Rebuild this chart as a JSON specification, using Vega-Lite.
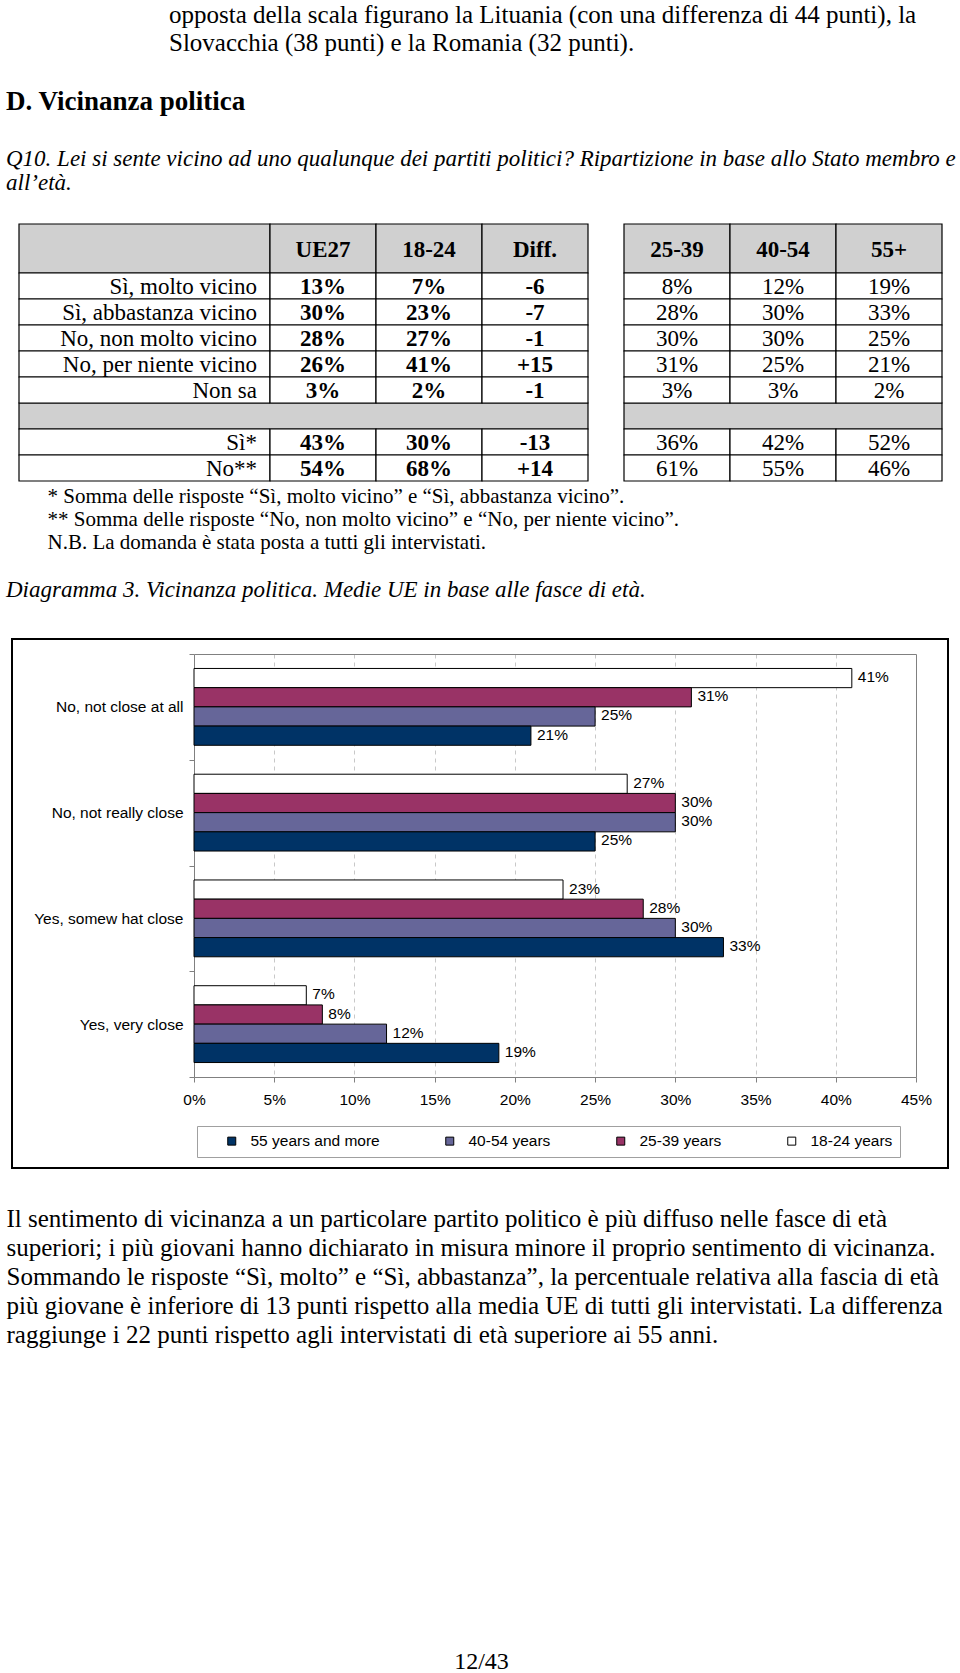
{
  "$schema": "https://vega.github.io/schema/vega-lite/v6.json",
  "background": "white",
  "padding": {"left": 5, "top": 2, "right": 0, "bottom": 0},
  "config": {"view": {"stroke": null}},
  "title": {
    "text": ["opposta della scala figurano la Lituania (con una differenza di 44 punti), la", "Slovacchia (38 punti) e la Romania (32 punti)."],
    "anchor": "start", "frame": "group", "dx": 157, "offset": 32,
    "font": "Liberation Serif", "fontSize": 25, "fontWeight": "normal", "lineHeight": 28, "color": "black"
  },
  "bounds": "flush",
  "spacing": 158,
  "datasets": {
    "hdrA": [{"col": "UE27", "part": "header"}, {"col": "18-24", "part": "header"}, {"col": "Diff.", "part": "header"}],
    "hdrB": [{"col": "25-39", "part": "header"}, {"col": "40-54", "part": "header"}, {"col": "55+", "part": "header"}],
    "labels": [{"row": "Sì, molto vicino"}, {"row": "Sì, abbastanza vicino"}, {"row": "No, non molto vicino"}, {"row": "No, per niente vicino"}, {"row": "Non sa"}, {"row": "Sì*"}, {"row": "No**"}],
    "cellsA": [
      {"row": "Sì, molto vicino", "col": "UE27", "v": "13%"}, {"row": "Sì, molto vicino", "col": "18-24", "v": "7%"}, {"row": "Sì, molto vicino", "col": "Diff.", "v": "-6"},
      {"row": "Sì, abbastanza vicino", "col": "UE27", "v": "30%"}, {"row": "Sì, abbastanza vicino", "col": "18-24", "v": "23%"}, {"row": "Sì, abbastanza vicino", "col": "Diff.", "v": "-7"},
      {"row": "No, non molto vicino", "col": "UE27", "v": "28%"}, {"row": "No, non molto vicino", "col": "18-24", "v": "27%"}, {"row": "No, non molto vicino", "col": "Diff.", "v": "-1"},
      {"row": "No, per niente vicino", "col": "UE27", "v": "26%"}, {"row": "No, per niente vicino", "col": "18-24", "v": "41%"}, {"row": "No, per niente vicino", "col": "Diff.", "v": "+15"},
      {"row": "Non sa", "col": "UE27", "v": "3%"}, {"row": "Non sa", "col": "18-24", "v": "2%"}, {"row": "Non sa", "col": "Diff.", "v": "-1"},
      {"row": "Sì*", "col": "UE27", "v": "43%"}, {"row": "Sì*", "col": "18-24", "v": "30%"}, {"row": "Sì*", "col": "Diff.", "v": "-13"},
      {"row": "No**", "col": "UE27", "v": "54%"}, {"row": "No**", "col": "18-24", "v": "68%"}, {"row": "No**", "col": "Diff.", "v": "+14"}
    ],
    "cellsB": [
      {"row": "Sì, molto vicino", "col": "25-39", "v": "8%"}, {"row": "Sì, molto vicino", "col": "40-54", "v": "12%"}, {"row": "Sì, molto vicino", "col": "55+", "v": "19%"},
      {"row": "Sì, abbastanza vicino", "col": "25-39", "v": "28%"}, {"row": "Sì, abbastanza vicino", "col": "40-54", "v": "30%"}, {"row": "Sì, abbastanza vicino", "col": "55+", "v": "33%"},
      {"row": "No, non molto vicino", "col": "25-39", "v": "30%"}, {"row": "No, non molto vicino", "col": "40-54", "v": "30%"}, {"row": "No, non molto vicino", "col": "55+", "v": "25%"},
      {"row": "No, per niente vicino", "col": "25-39", "v": "31%"}, {"row": "No, per niente vicino", "col": "40-54", "v": "25%"}, {"row": "No, per niente vicino", "col": "55+", "v": "21%"},
      {"row": "Non sa", "col": "25-39", "v": "3%"}, {"row": "Non sa", "col": "40-54", "v": "3%"}, {"row": "Non sa", "col": "55+", "v": "2%"},
      {"row": "Sì*", "col": "25-39", "v": "36%"}, {"row": "Sì*", "col": "40-54", "v": "42%"}, {"row": "Sì*", "col": "55+", "v": "52%"},
      {"row": "No**", "col": "25-39", "v": "61%"}, {"row": "No**", "col": "40-54", "v": "55%"}, {"row": "No**", "col": "55+", "v": "46%"}
    ],
    "bars": [
      {"answer": "No, not close at all", "age": "18-24 years", "share": 0.41},
      {"answer": "No, not close at all", "age": "25-39 years", "share": 0.31},
      {"answer": "No, not close at all", "age": "40-54 years", "share": 0.25},
      {"answer": "No, not close at all", "age": "55 years and more", "share": 0.21},
      {"answer": "No, not really close", "age": "18-24 years", "share": 0.27},
      {"answer": "No, not really close", "age": "25-39 years", "share": 0.30},
      {"answer": "No, not really close", "age": "40-54 years", "share": 0.30},
      {"answer": "No, not really close", "age": "55 years and more", "share": 0.25},
      {"answer": "Yes, somew hat close", "age": "18-24 years", "share": 0.23},
      {"answer": "Yes, somew hat close", "age": "25-39 years", "share": 0.28},
      {"answer": "Yes, somew hat close", "age": "40-54 years", "share": 0.30},
      {"answer": "Yes, somew hat close", "age": "55 years and more", "share": 0.33},
      {"answer": "Yes, very close", "age": "18-24 years", "share": 0.07},
      {"answer": "Yes, very close", "age": "25-39 years", "share": 0.08},
      {"answer": "Yes, very close", "age": "40-54 years", "share": 0.12},
      {"answer": "Yes, very close", "age": "55 years and more", "share": 0.19}
    ]
  },
  "vconcat": [
    {
      "width": 930,
      "height": 257,
      "title": {
        "text": "D. Vicinanza politica",
        "subtitle": ["Q10. Lei si sente vicino ad uno qualunque dei partiti politici? Ripartizione in base allo Stato membro e", "all’età."],
        "anchor": "start", "frame": "group", "dx": -6, "offset": 27,
        "font": "Liberation Serif", "fontSize": 27, "fontWeight": "bold", "color": "black",
        "subtitleFont": "Liberation Serif", "subtitleFontSize": 23, "subtitleFontStyle": "italic", "subtitleFontWeight": "normal",
        "subtitleColor": "black", "subtitleLineHeight": 24.5, "subtitlePadding": 32
      },
      "layer": [
        {
          "data": {"values": [{"col": "label", "part": "header"}]},
          "mark": {"type": "rect", "fill": "#d0d0d0", "stroke": "black", "strokeWidth": 1.2},
          "encoding": {
            "x": {"field": "col", "type": "nominal", "scale": {"type": "band", "range": [7, 258], "paddingInner": 0, "paddingOuter": 0}, "axis": null},
            "y": {"field": "part", "type": "nominal", "scale": {"type": "band", "range": [0, 49], "paddingInner": 0, "paddingOuter": 0}, "axis": null}
          }
        },
        {
          "data": {"name": "hdrA"},
          "encoding": {
            "x": {"field": "col", "type": "nominal", "scale": {"type": "band", "domain": ["UE27", "18-24", "Diff."], "range": [258, 576], "paddingInner": 0, "paddingOuter": 0}, "axis": null},
            "y": {"field": "part", "type": "nominal", "scale": {"type": "band", "range": [0, 49], "paddingInner": 0, "paddingOuter": 0}, "axis": null}
          },
          "layer": [
            {"mark": {"type": "rect", "fill": "#d0d0d0", "stroke": "black", "strokeWidth": 1.2}},
            {"mark": {"type": "text", "font": "Liberation Serif", "fontSize": 23, "fontWeight": "bold", "color": "black", "baseline": "middle", "dy": 1}, "encoding": {"text": {"field": "col"}}}
          ]
        },
        {
          "data": {"name": "hdrB"},
          "encoding": {
            "x": {"field": "col", "type": "nominal", "scale": {"type": "band", "domain": ["25-39", "40-54", "55+"], "range": [612, 930], "paddingInner": 0, "paddingOuter": 0}, "axis": null},
            "y": {"field": "part", "type": "nominal", "scale": {"type": "band", "range": [0, 49], "paddingInner": 0, "paddingOuter": 0}, "axis": null}
          },
          "layer": [
            {"mark": {"type": "rect", "fill": "#d0d0d0", "stroke": "black", "strokeWidth": 1.2}},
            {"mark": {"type": "text", "font": "Liberation Serif", "fontSize": 23, "fontWeight": "bold", "color": "black", "baseline": "middle", "dy": 1}, "encoding": {"text": {"field": "col"}}}
          ]
        },
        {
          "encoding": {
            "x": {"datum": "label", "type": "nominal", "scale": {"type": "band", "domain": ["label"], "range": [7, 258], "paddingInner": 0, "paddingOuter": 0}, "axis": null},
            "y": {
              "field": "row", "type": "nominal",
              "scale": {"type": "band", "domain": ["Sì, molto vicino", "Sì, abbastanza vicino", "No, non molto vicino", "No, per niente vicino", "Non sa", "sep", "Sì*", "No**"], "range": [49, 257], "paddingInner": 0, "paddingOuter": 0},
              "axis": {
                "orient": "left", "domain": false, "ticks": false, "labels": false, "grid": false,
                "title": ["* Somma delle risposte “Sì, molto vicino” e “Sì, abbastanza vicino”.", "** Somma delle risposte “No, non molto vicino” e “No, per niente vicino”.", "N.B. La domanda è stata posta a tutti gli intervistati."],
                "titleAngle": 0, "titleX": 35, "titleY": 278, "titleAlign": "left", "titleBaseline": "alphabetic",
                "titleFont": "Liberation Serif", "titleFontSize": 21, "titleFontWeight": "normal", "titleColor": "black", "titleLineHeight": 23, "titleLimit": 0
              }
            }
          },
          "layer": [
            {"data": {"values": [{"row": "sep"}]}, "mark": {"type": "rect", "fill": "#d0d0d0", "stroke": "black", "strokeWidth": 1.2, "strokeDash": [251, 26, 277]}},
            {"data": {"name": "labels"}, "mark": {"type": "rect", "fill": "white", "stroke": "black", "strokeWidth": 1.2}},
            {
              "data": {"name": "labels"},
              "mark": {"type": "text", "align": "right", "baseline": "middle", "dx": -13, "dy": 1, "font": "Liberation Serif", "fontSize": 23, "color": "black"},
              "encoding": {"x": {"datum": "label", "type": "nominal", "bandPosition": 1, "axis": null}, "text": {"field": "row"}}
            }
          ]
        },
        {
          "encoding": {
            "x": {"field": "col", "type": "nominal", "scale": {"type": "band", "domain": ["UE27", "18-24", "Diff."], "range": [258, 576], "paddingInner": 0, "paddingOuter": 0}, "axis": null},
            "y": {"field": "row", "type": "nominal", "scale": {"type": "band", "domain": ["Sì, molto vicino", "Sì, abbastanza vicino", "No, non molto vicino", "No, per niente vicino", "Non sa", "sep", "Sì*", "No**"], "range": [49, 257], "paddingInner": 0, "paddingOuter": 0}, "axis": null}
          },
          "layer": [
            {"data": {"values": [{"row": "sep", "col": "UE27"}, {"row": "sep", "col": "18-24"}]}, "mark": {"type": "rect", "fill": "#d0d0d0", "stroke": "black", "strokeWidth": 1.2, "strokeDash": [106, 26]}},
            {"data": {"values": [{"row": "sep", "col": "Diff."}]}, "mark": {"type": "rect", "fill": "#d0d0d0", "stroke": "black", "strokeWidth": 1.2, "strokeDash": [238, 26]}},
            {"data": {"name": "cellsA"}, "mark": {"type": "rect", "fill": "white", "stroke": "black", "strokeWidth": 1.2}},
            {"data": {"name": "cellsA"}, "mark": {"type": "text", "baseline": "middle", "dy": 1, "font": "Liberation Serif", "fontSize": 23, "fontWeight": "bold", "color": "black"}, "encoding": {"text": {"field": "v"}}}
          ]
        },
        {
          "encoding": {
            "x": {"field": "col", "type": "nominal", "scale": {"type": "band", "domain": ["25-39", "40-54", "55+"], "range": [612, 930], "paddingInner": 0, "paddingOuter": 0}, "axis": null},
            "y": {"field": "row", "type": "nominal", "scale": {"type": "band", "domain": ["Sì, molto vicino", "Sì, abbastanza vicino", "No, non molto vicino", "No, per niente vicino", "Non sa", "sep", "Sì*", "No**"], "range": [49, 257], "paddingInner": 0, "paddingOuter": 0}, "axis": null}
          },
          "layer": [
            {"data": {"values": [{"row": "sep", "col": "25-39"}]}, "mark": {"type": "rect", "fill": "#d0d0d0", "stroke": "black", "strokeWidth": 1.2, "strokeDash": [106, 26, 132]}},
            {"data": {"values": [{"row": "sep", "col": "40-54"}]}, "mark": {"type": "rect", "fill": "#d0d0d0", "stroke": "black", "strokeWidth": 1.2, "strokeDash": [106, 26]}},
            {"data": {"values": [{"row": "sep", "col": "55+"}]}, "mark": {"type": "rect", "fill": "#d0d0d0", "stroke": "black", "strokeWidth": 1.2, "strokeDash": [238, 26]}},
            {"data": {"name": "cellsB"}, "mark": {"type": "rect", "fill": "white", "stroke": "black", "strokeWidth": 1.2}},
            {"data": {"name": "cellsB"}, "mark": {"type": "text", "baseline": "middle", "dy": 1, "font": "Liberation Serif", "fontSize": 23, "fontWeight": "normal", "color": "black"}, "encoding": {"text": {"field": "v"}}}
          ]
        }
      ],
      "resolve": {"scale": {"x": "independent", "y": "independent"}}
    },
    {
      "width": 936,
      "height": 529,
      "view": {"stroke": "black", "strokeWidth": 2},
      "title": {
        "text": "Diagramma 3. Vicinanza politica. Medie UE in base alle fasce di età.",
        "anchor": "start", "frame": "group", "dx": -6, "offset": 30,
        "font": "Liberation Serif", "fontSize": 23, "fontStyle": "italic", "fontWeight": "normal", "color": "black"
      },
      "data": {"name": "bars"},
      "layer": [
        {
          "mark": {"type": "bar", "stroke": "black", "strokeWidth": 1},
          "encoding": {
            "x": {
              "field": "share", "type": "quantitative",
              "scale": {"domain": [0, 0.45], "range": [182, 904], "nice": false},
              "axis": {
                "orient": "bottom", "offset": -91,
                "values": [0, 0.05, 0.1, 0.15, 0.2, 0.25, 0.3, 0.35, 0.4, 0.45], "format": ".0%",
                "labelFont": "Liberation Sans", "labelFontSize": 15.5, "labelColor": "black", "labelPadding": 10,
                "labelFlush": false, "labelOverlap": false, "labelBound": false,
                "tickSize": 5, "tickColor": "#808080", "domainColor": "#808080",
                "grid": false,
                "title": ["Il sentimento di vicinanza a un particolare partito politico è più diffuso nelle fasce di età", "superiori; i più giovani hanno dichiarato in misura minore il proprio sentimento di vicinanza.", "Sommando le risposte “Sì, molto” e “Sì, abbastanza”, la percentuale relativa alla fascia di età", "più giovane è inferiore di 13 punti rispetto alla media UE di tutti gli intervistati. La differenza", "raggiunge i 22 punti rispetto agli intervistati di età superiore ai 55 anni."],
                "titleX": -6, "titleY": 149, "titleAlign": "left", "titleAnchor": "start", "titleBaseline": "alphabetic",
                "titleFont": "Liberation Serif", "titleFontSize": 25, "titleFontWeight": "normal", "titleColor": "black", "titleLineHeight": 29, "titleLimit": 0
              }
            },
            "y": {
              "field": "answer", "type": "nominal",
              "sort": ["No, not close at all", "No, not really close", "Yes, somew hat close", "Yes, very close"],
              "scale": {"range": [15, 438], "paddingInner": 0, "paddingOuter": 0},
              "axis": {
                "orient": "left", "offset": -182, "tickBand": "extent",
                "tickSize": 5, "tickColor": "#808080", "domainColor": "#808080",
                "labelFont": "Liberation Sans", "labelFontSize": 15.5, "labelColor": "black", "labelPadding": 6, "labelLimit": 0,
                "grid": false,
                "title": "12/43", "titleAngle": 0, "titleX": 287, "titleY": 1029, "titleAlign": "center", "titleBaseline": "alphabetic",
                "titleFont": "Liberation Serif", "titleFontSize": 24, "titleFontWeight": "normal", "titleColor": "black"
              }
            },
            "yOffset": {
              "field": "age", "type": "nominal",
              "sort": ["18-24 years", "25-39 years", "40-54 years", "55 years and more"],
              "scale": {"paddingInner": 0, "paddingOuter": 0.753}
            },
            "color": {
              "field": "age", "type": "nominal",
              "scale": {"domain": ["55 years and more", "40-54 years", "25-39 years", "18-24 years"], "range": ["#003366", "#666699", "#993366", "#ffffff"]},
              "legend": {
                "orient": "none", "legendX": 185, "legendY": 902, "direction": "horizontal", "columns": 4,
                "title": " ", "titleOrient": "left", "titleFontSize": 10, "titlePadding": 20,
                "padding": 7, "strokeColor": "#a0a0a0", "fillColor": "white",
                "symbolType": "square", "symbolSize": 64, "symbolStrokeColor": "black", "symbolStrokeWidth": 1, "symbolOpacity": 1,
                "labelFont": "Liberation Sans", "labelFontSize": 15.5, "labelColor": "black", "labelOffset": 11, "labelLimit": 0,
                "columnPadding": 62
              }
            }
          }
        },
        {
          "mark": {"type": "text", "align": "left", "baseline": "middle", "dx": 6, "dy": -1, "font": "Liberation Sans", "fontSize": 15.5, "color": "black"},
          "encoding": {
            "x": {
              "field": "share", "type": "quantitative",
              "axis": {
                "orient": "top", "offset": -15, "domain": true, "domainColor": "#808080", "ticks": false, "labels": false,
                "grid": true, "gridColor": "#c8c8c8", "gridDash": [4, 4], "values": [0.05, 0.1, 0.15, 0.2, 0.25, 0.3, 0.35, 0.4],
                "title": null
              }
            },
            "y": {"field": "answer", "type": "nominal", "sort": ["No, not close at all", "No, not really close", "Yes, somew hat close", "Yes, very close"], "axis": {"orient": "right", "offset": -32, "domain": true, "domainColor": "#808080", "ticks": false, "labels": false, "grid": false, "title": null}},
            "yOffset": {"field": "age", "type": "nominal", "sort": ["18-24 years", "25-39 years", "40-54 years", "55 years and more"]},
            "text": {"field": "share", "type": "quantitative", "format": ".0%"}
          }
        }
      ],
      "resolve": {"axis": {"x": "independent", "y": "independent"}}
    }
  ]
}
